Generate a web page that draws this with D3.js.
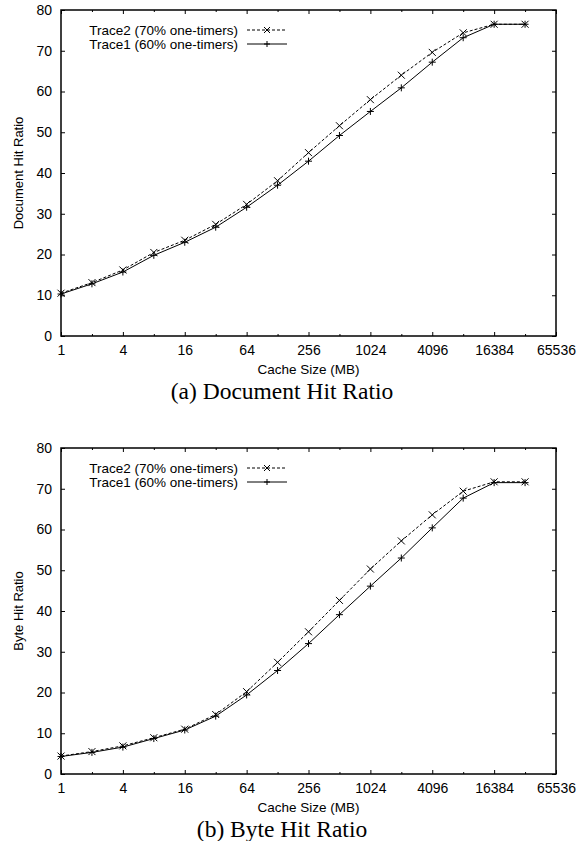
<!DOCTYPE html>
<html>
<head>
<meta charset="utf-8">
<script src="https://cdn.jsdelivr.net/npm/d3@7"></script>
<style>
  body { margin: 0; background: #fff; }
  svg { display: block; }
  .axis text { font-family: "Liberation Sans", Arial, sans-serif; font-size: 14px; fill: #000; }
  .axis line { stroke: #000; stroke-width: 1; }
  .axis path { display: none; }
  .label { font-family: "Liberation Sans", Arial, sans-serif; font-size: 14px; fill: #000; }
  .caption { font-family: "Liberation Serif", "Times New Roman", serif; font-size: 23.5px; fill: #000; }
</style>
</head>
<body>
<svg id="chart"></svg>
<script>
// cache sizes in MB (powers of two)
const cacheSizes = [1, 2, 4, 8, 16, 32, 64, 128, 256, 512, 1024, 2048, 4096, 8192, 16384, 32768];

// (a) document hit ratio
const docTrace2 = [10.5, 13.1, 16.2, 20.5, 23.5, 27.4, 32.3, 38.1, 45.0, 51.6, 58.0, 64.0, 69.6, 74.4, 76.5, 76.5];
const docTrace1 = [10.3, 12.8, 15.7, 19.8, 23.0, 26.7, 31.6, 37.0, 42.9, 49.2, 55.1, 60.9, 67.2, 73.2, 76.5, 76.5];

// (b) byte hit ratio
const byteTrace2 = [4.4, 5.5, 6.9, 8.9, 11.0, 14.6, 20.2, 27.4, 34.9, 42.6, 50.3, 57.2, 63.6, 69.4, 71.7, 71.7];
const byteTrace1 = [4.3, 5.3, 6.6, 8.7, 10.8, 14.2, 19.4, 25.4, 32.0, 39.1, 46.1, 53.0, 60.4, 67.7, 71.5, 71.5];

const xMajorTicks = [1, 4, 16, 64, 256, 1024, 4096, 16384, 65536];
const xMinorTicks = [2, 8, 32, 128, 512, 2048, 8192, 32768];
const yTicks = [0, 10, 20, 30, 40, 50, 60, 70, 80];

const seriesNames = ["Trace2 (70% one-timers)", "Trace1 (60% one-timers)"];

const W = 585, H = 841;
const margin = { left: 61, top: 10 },
  width = 495,
  height = 326,
  panelOffset = 438;

const svg = d3.select("#chart").attr("width", W).attr("height", H);

const x = d3.scaleLog().base(2).domain([1, 65536]).range([0, width]);
const y = d3.scaleLinear().domain([0, 80]).range([height, 0]);

function crossPath(cx, cy, r) {
  return "M" + (cx - r) + "," + (cy - r) + "L" + (cx + r) + "," + (cy + r) +
    "M" + (cx - r) + "," + (cy + r) + "L" + (cx + r) + "," + (cy - r);
}
function plusPath(cx, cy, r) {
  return "M" + (cx - r) + "," + cy + "L" + (cx + r) + "," + cy +
    "M" + cx + "," + (cy - r) + "L" + cx + "," + (cy + r);
}

function drawPanel(top, yTitle, caption, trace2, trace1) {
  const g = svg.append("g").attr("transform", "translate(" + margin.left + "," + top + ")");

  // axes with inward ticks, gnuplot style
  g.append("g").attr("class", "axis")
    .attr("transform", "translate(0," + height + ")")
    .call(d3.axisBottom(x).tickValues(xMajorTicks).tickFormat(d3.format("d")).tickSize(-4).tickPadding(9));
  g.append("g").attr("class", "axis")
    .attr("transform", "translate(0," + height + ")")
    .call(d3.axisBottom(x).tickValues(xMinorTicks).tickFormat("").tickSize(-2));
  g.append("g").attr("class", "axis")
    .call(d3.axisTop(x).tickValues(xMajorTicks).tickFormat("").tickSize(-4));
  g.append("g").attr("class", "axis")
    .call(d3.axisTop(x).tickValues(xMinorTicks).tickFormat("").tickSize(-2));
  g.append("g").attr("class", "axis")
    .call(d3.axisLeft(y).tickValues(yTicks).tickSize(-4).tickPadding(9));
  g.append("g").attr("class", "axis")
    .attr("transform", "translate(" + width + ",0)")
    .call(d3.axisRight(y).tickValues(yTicks).tickFormat("").tickSize(-4));

  g.append("rect")
    .attr("width", width)
    .attr("height", height)
    .attr("fill", "none")
    .attr("stroke", "#000")
    .attr("stroke-width", 1.5);

  const series = [
    { name: seriesNames[0], values: trace2, dash: "3,2", marker: crossPath },
    { name: seriesNames[1], values: trace1, dash: null, marker: plusPath },
  ];

  const line = d3.line()
    .x((d, i) => x(cacheSizes[i]))
    .y((d) => y(d));

  series.forEach((s, si) => {
    g.append("path")
      .datum(s.values)
      .attr("d", line)
      .attr("fill", "none")
      .attr("stroke", "#000")
      .attr("stroke-width", 1)
      .attr("stroke-dasharray", s.dash);

    g.selectAll(".m" + si)
      .data(s.values)
      .enter()
      .append("path")
      .attr("class", "m" + si)
      .attr("d", (d, i) => s.marker(x(cacheSizes[i]), y(d), 3.5))
      .attr("stroke", "#000")
      .attr("stroke-width", 1);

    // legend
    const ly = 20 + si * 14;
    g.append("text")
      .attr("class", "label")
      .attr("x", 177)
      .attr("y", ly)
      .attr("dy", "0.35em")
      .attr("text-anchor", "end")
      .style("font-size", "13.5px")
      .text(s.name);
    g.append("line")
      .attr("x1", 186)
      .attr("x2", 226)
      .attr("y1", ly)
      .attr("y2", ly)
      .attr("stroke", "#000")
      .attr("stroke-width", 1)
      .attr("stroke-dasharray", s.dash);
    g.append("path")
      .attr("d", s.marker(206, ly, 3))
      .attr("stroke", "#000")
      .attr("stroke-width", 1);
  });

  g.append("text")
    .attr("class", "label")
    .attr("text-anchor", "middle")
    .attr("x", width / 2)
    .attr("y", height + 38)
    .style("font-size", "13.5px")
    .text("Cache Size (MB)");

  g.append("text")
    .attr("class", "label")
    .attr("text-anchor", "middle")
    .attr("transform", "rotate(-90)")
    .attr("x", -height / 2)
    .attr("y", -38)
    .style("font-size", "13px")
    .text(yTitle);

  g.append("text")
    .attr("class", "caption")
    .attr("text-anchor", "middle")
    .attr("x", 282 - margin.left)
    .attr("y", height + 63)
    .text(caption);
}

drawPanel(margin.top, "Document Hit Ratio", "(a) Document Hit Ratio", docTrace2, docTrace1);
drawPanel(margin.top + panelOffset, "Byte Hit Ratio", "(b) Byte Hit Ratio", byteTrace2, byteTrace1);
</script>
</body>
</html>
